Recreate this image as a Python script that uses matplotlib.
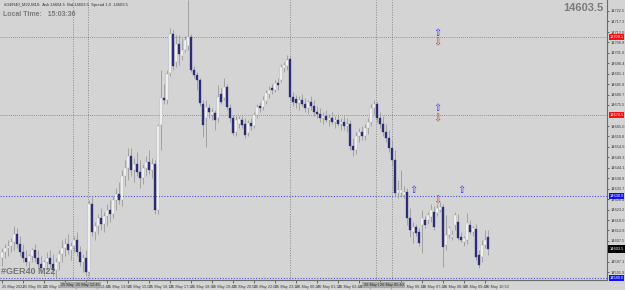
import numpy as np
import matplotlib
matplotlib.use('Agg')
import matplotlib.pyplot as plt

plt.rcParams['font.family'] = ['Liberation Sans', 'DejaVu Sans']

symbol = '#GER40_M22'
period = 'M10'
last_price = 14603.5
local_time = '15:03:36'

# bar data (M10 candles)
opens = [14599, 14602, 14604, 14605, 14607, 14611, 14606, 14602, 14599, 14597,
         14600, 14603, 14599, 14596, 14594, 14597, 14599, 14596, 14593, 14597,
         14601, 14604, 14606, 14603, 14605, 14608, 14602, 14597, 14599, 14592,
         14626, 14612, 14615, 14619, 14616, 14620, 14623, 14621, 14628, 14631,
         14628, 14640, 14644, 14650, 14643, 14646, 14642, 14639, 14644, 14647,
         14643, 14646, 14623, 14665.5, 14679, 14678, 14691.5, 14711, 14697, 14706,
         14700, 14703, 14705, 14709.5, 14693, 14690.5, 14688, 14676, 14669, 14674,
         14670.5, 14671.5, 14669, 14681, 14679, 14684.5, 14674, 14669, 14662, 14666,
         14668, 14666, 14661.5, 14666.5, 14665, 14670.5, 14675, 14674.5, 14677.5, 14681,
         14684, 14683, 14686.5, 14688, 14694, 14695, 14698.5, 14679.5, 14678.5, 14676.5,
         14678, 14676, 14674, 14677, 14675, 14672, 14671, 14669, 14670, 14668,
         14669, 14667, 14668, 14666, 14667, 14665, 14666, 14655, 14653, 14660,
         14662, 14660, 14664, 14667, 14674, 14676, 14669, 14666, 14662, 14659,
         14654, 14648, 14631.5, 14631.5, 14630.5, 14632, 14619, 14612, 14614.5, 14612,
         14615.5, 14618, 14618, 14619.5, 14622, 14621.5, 14623, 14624.5, 14605.5, 14610.5,
         14609.5, 14615.5, 14617, 14609.5, 14607, 14608, 14615.5, 14612, 14613.5, 14600.5,
         14599.5, 14605.5, 14609.5]
highs = [14604, 14606, 14608, 14609, 14615, 14614, 14610, 14606, 14603, 14601,
         14604, 14606, 14603, 14600, 14598, 14602, 14603, 14601, 14599, 14603,
         14608, 14609, 14611, 14607, 14610, 14612, 14605, 14601, 14603, 14628,
         14630, 14617, 14621, 14624, 14622, 14626, 14628, 14630, 14634, 14637,
         14643, 14648, 14654, 14654, 14649, 14652, 14648, 14646, 14650, 14653,
         14649, 14648, 14666, 14693, 14686, 14693, 14714, 14713, 14710.5, 14710.5,
         14709, 14710, 14728, 14711, 14695, 14692, 14689, 14678, 14678, 14676,
         14674, 14673, 14685.5, 14684, 14689, 14686, 14676, 14670.5, 14670, 14670,
         14670, 14669, 14668, 14669, 14672, 14676, 14677, 14680, 14683, 14685,
         14686, 14688, 14689, 14696, 14697, 14700.5, 14700, 14682, 14680.5, 14680,
         14681, 14679, 14678, 14680, 14678, 14675, 14674, 14672, 14673, 14671,
         14672, 14670, 14671, 14669, 14670, 14669, 14668, 14659, 14662, 14664,
         14665, 14666, 14669, 14676, 14678, 14677, 14672, 14670, 14666, 14663,
         14658, 14653, 14638, 14643, 14635, 14634, 14624, 14617, 14616, 14614,
         14623, 14620, 14622, 14626, 14625, 14626, 14627, 14626, 14620.5, 14615,
         14613, 14622, 14621, 14612, 14610, 14621.5, 14618, 14615, 14616, 14603,
         14608, 14613, 14613]
lows = [14595, 14599, 14600, 14602, 14603, 14604, 14600, 14597, 14595, 14593,
        14597, 14597, 14594, 14592, 14590, 14593, 14594, 14590, 14589, 14593,
        14597, 14600, 14601, 14598, 14602, 14600, 14595, 14592, 14590, 14590,
        14610, 14608, 14611, 14613, 14612, 14615, 14617, 14619, 14623, 14626,
        14625, 14635, 14638, 14640, 14637, 14640, 14634, 14636, 14640, 14641,
        14639, 14621, 14621, 14653, 14676, 14676, 14690, 14693, 14694.5, 14695.5,
        14698, 14702, 14703, 14692, 14689, 14683, 14675, 14659.5, 14654.5, 14669,
        14668, 14663, 14667, 14676, 14678, 14673, 14667, 14660.5, 14660, 14664,
        14664, 14659, 14660, 14663, 14664, 14669, 14672, 14673, 14676, 14679,
        14681, 14682, 14683, 14687, 14692, 14693, 14678, 14675, 14674, 14673,
        14675, 14672, 14671, 14673, 14670, 14669, 14667, 14666, 14667, 14665,
        14666, 14664, 14665, 14663, 14663, 14662, 14653, 14650, 14651, 14657,
        14658, 14658, 14661, 14665, 14671, 14667, 14664, 14660, 14657, 14652,
        14645, 14630, 14629, 14630, 14629, 14615.5, 14609.5, 14606.5, 14610, 14605,
        14601.5, 14614, 14616, 14617, 14613, 14620, 14622, 14594.5, 14603, 14609,
        14608, 14613, 14608, 14607, 14605, 14606, 14611, 14610, 14598, 14594,
        14597, 14604, 14600.5]
closes = [14602, 14604, 14605, 14607, 14611, 14606, 14602, 14599, 14597, 14600,
          14603, 14599, 14596, 14594, 14597, 14599, 14596, 14593, 14597, 14601,
          14604, 14606, 14603, 14605, 14608, 14602, 14597, 14599, 14592, 14626,
          14612, 14615, 14619, 14616, 14620, 14623, 14621, 14628, 14631, 14628,
          14640, 14644, 14650, 14643, 14646, 14642, 14639, 14644, 14647, 14643,
          14646, 14623, 14665, 14679, 14678, 14691, 14711, 14695, 14706, 14701,
          14703, 14708, 14709.5, 14693, 14690.5, 14688, 14676.5, 14665.5, 14674.5, 14672,
          14672, 14668, 14679.5, 14677, 14684.5, 14674.5, 14669, 14661.5, 14668, 14668.5,
          14665.5, 14660.5, 14666.5, 14665, 14670.5, 14674.5, 14674, 14678, 14681.5, 14683,
          14683, 14686.5, 14685.5, 14694.5, 14695.5, 14698, 14679.5, 14677, 14676.5, 14678,
          14676, 14674, 14677, 14675, 14672, 14671, 14669, 14670, 14668, 14669,
          14667, 14668, 14666, 14667, 14665, 14666, 14655, 14653, 14660, 14662,
          14660, 14664, 14667, 14674, 14676, 14669, 14666, 14662, 14659, 14654,
          14648, 14631.5, 14633, 14633, 14632, 14619, 14613, 14614.5, 14611.5, 14606.5,
          14619, 14615.5, 14620.5, 14623, 14614.5, 14624, 14624.5, 14604.5, 14610.5, 14614,
          14610.5, 14620.5, 14609, 14608, 14609, 14616.5, 14612, 14614, 14599.5, 14595.5,
          14605.5, 14608, 14603.5]

time_labels = ['25 May 2022', '25 May 09:10', '25 May 10:20', '25 May 11:30',
               '25 May 12:40', '25 May 13:50', '25 May 15:00', '25 May 16:10',
               '25 May 17:20', '25 May 18:30', '25 May 19:40', '25 May 20:50',
               '25 May 22:00', '25 May 23:10', '26 May 00:20', '26 May 01:30',
               '26 May 02:40', '26 May 03:50', '26 May 05:00', '26 May 06:10',
               '26 May 07:20', '26 May 08:30', '26 May 09:40', '26 May 10:50']

price_ticks = [14722.5, 14717.3, 14712.0, 14706.8, 14701.6, 14696.4, 14691.1,
               14685.9, 14680.7, 14675.5, 14665.0, 14659.8, 14654.6,
               14649.3, 14644.1, 14638.9, 14633.7, 14628.4, 14623.2, 14618.0,
               14612.8, 14607.5, 14597.1, 14591.9]

red_levels = [14709.5, 14670.5]
blue_levels = [14630.0, 14589.0]

# vertical lines (bar index) and the times shown for them
vline_bars = [23.5, 28.5, 96, 124.5, 130]
vline_times = ['25 May 11:55', '25 May 12:45', '', '26 May 04:45', '26 May 05:40']

# signal arrows: (bar, price)
up_bars = [145, 145, 137, 153]
up_prices = [14711.5, 14674.0, 14633.0, 14633.0]
down_bars = [145, 145, 145]
down_prices = [14707.0, 14669.0, 14628.0]

bg = '#d4d4d4'
bull_col = 'white'
bear_col = '#2c2c7a'
wick_col = '#9a9a9a'
fs = 2.8

W, H = 625, 290
fig = plt.figure(figsize=(W / 100, H / 100), dpi=100)
fig.patch.set_facecolor(bg)
ax = fig.add_axes([0, 10 / H, 607 / W, 280 / H])
ax.set_facecolor(bg)

o = np.array(opens)
h = np.array(highs)
l = np.array(lows)
c = np.array(closes)
x = np.arange(len(o))
up = c >= o

for bar in vline_bars:
    ax.axvline(bar, color='#8a8a8a', lw=0.7, ls=(0, (1, 1.5)), zorder=1)
for lvl in red_levels:
    ax.axhline(lvl, color='#e05050', lw=0.6, ls=(0, (1, 1.5)), zorder=1)
for lvl in blue_levels:
    ax.axhline(lvl, color='#5050e0', lw=0.8, ls=(0, (1, 1.5)), zorder=1)

ax.vlines(x, l, h, color=wick_col, lw=0.6, zorder=2)
body = np.maximum(np.abs(c - o), 0.4)
bottom = np.minimum(o, c)
ax.bar(x[up], body[up], bottom=bottom[up], width=0.62, color=bull_col,
       edgecolor='#a0a0a0', lw=0.25, zorder=3)
ax.bar(x[~up], body[~up], bottom=bottom[~up], width=0.62, color=bear_col,
       edgecolor=bear_col, lw=0.25, zorder=3)

for bx, py in zip(up_bars, up_prices):
    ax.text(bx, py, '\u21e7', color='#3030ff', fontsize=7, ha='center',
            va='center', family='DejaVu Sans', zorder=4)
for bx, py in zip(down_bars, down_prices):
    ax.text(bx, py, '\u21e9', color='#e03030', fontsize=7, ha='center',
            va='center', family='DejaVu Sans', zorder=4)

ax.set_xlim(-0.67, -0.67 + 607 / 3)
ax.set_ylim(14588, 14728)

for s in ['top', 'left']:
    ax.spines[s].set_visible(False)
for s in ['right', 'bottom']:
    ax.spines[s].set_color('#6a6a6a')
    ax.spines[s].set_linewidth(0.8)

ax.yaxis.tick_right()
ax.set_yticks(price_ticks)
ax.set_yticklabels([f'{p:.1f}' for p in price_ticks])
ax.tick_params(axis='y', labelsize=fs, length=1.5, width=0.5, pad=0.8,
               colors='#3a3a3a')
ax.set_xticks(np.arange(0, len(o), 7)[:len(time_labels)])
ax.set_xticklabels(time_labels, ha='left')
ax.tick_params(axis='x', labelsize=fs, length=2, width=0.5, pad=1.5,
               colors='#3a3a3a')

ytr = ax.get_yaxis_transform()
for lvl in red_levels:
    ax.text(1.004, lvl, f'{lvl:.1f}', transform=ytr, fontsize=fs, color='white',
            va='center', ha='left', zorder=5, clip_on=False,
            bbox=dict(facecolor='#ff1010', edgecolor='none', pad=0.6))
for lvl in blue_levels:
    ax.text(1.004, lvl, f'{lvl:.1f}', transform=ytr, fontsize=fs, color='white',
            va='center', ha='left', zorder=5, clip_on=False,
            bbox=dict(facecolor='#1010ff', edgecolor='none', pad=0.6))
ax.text(1.004, last_price, f'{last_price:.1f}', transform=ytr, fontsize=fs,
        color='white', va='center', ha='left', zorder=5, clip_on=False,
        bbox=dict(facecolor='black', edgecolor='none', pad=1.2))

xtr = ax.get_xaxis_transform()
for bx, t in zip(vline_bars, vline_times):
    if t:
        ax.text(bx, -0.012, t, transform=xtr, fontsize=fs, color='#303030',
                ha='center', va='top', clip_on=False, zorder=6,
                bbox=dict(facecolor='#a8a8a8', edgecolor='none', pad=0.8))

fig.text(4 / W, 1 - 5 / H,
         f'{symbol},{period}:  Ask 14604.5  Bid {last_price:.1f}  Spread 1.0  {last_price:.1f}',
         fontsize=3, color='#303030', va='center', ha='left')
fig.text(3 / W, 1 - 15 / H, f'Local Time:   {local_time}', fontsize=5,
         color='#7a7a7a', fontweight='bold', va='center', ha='left')
fig.text(604 / W, 1 - 8 / H, f'{last_price:.1f}', fontsize=8,
         color='#7a7a7a', fontweight='bold', va='center', ha='right')
fig.text(1 / W, 1 - 272 / H, symbol.replace('_', ' '), fontsize=6.5,
         color='#6a6a6a', fontweight='bold', va='center', ha='left', alpha=0.9)

fig.savefig('out.png', dpi=100, facecolor=bg)
